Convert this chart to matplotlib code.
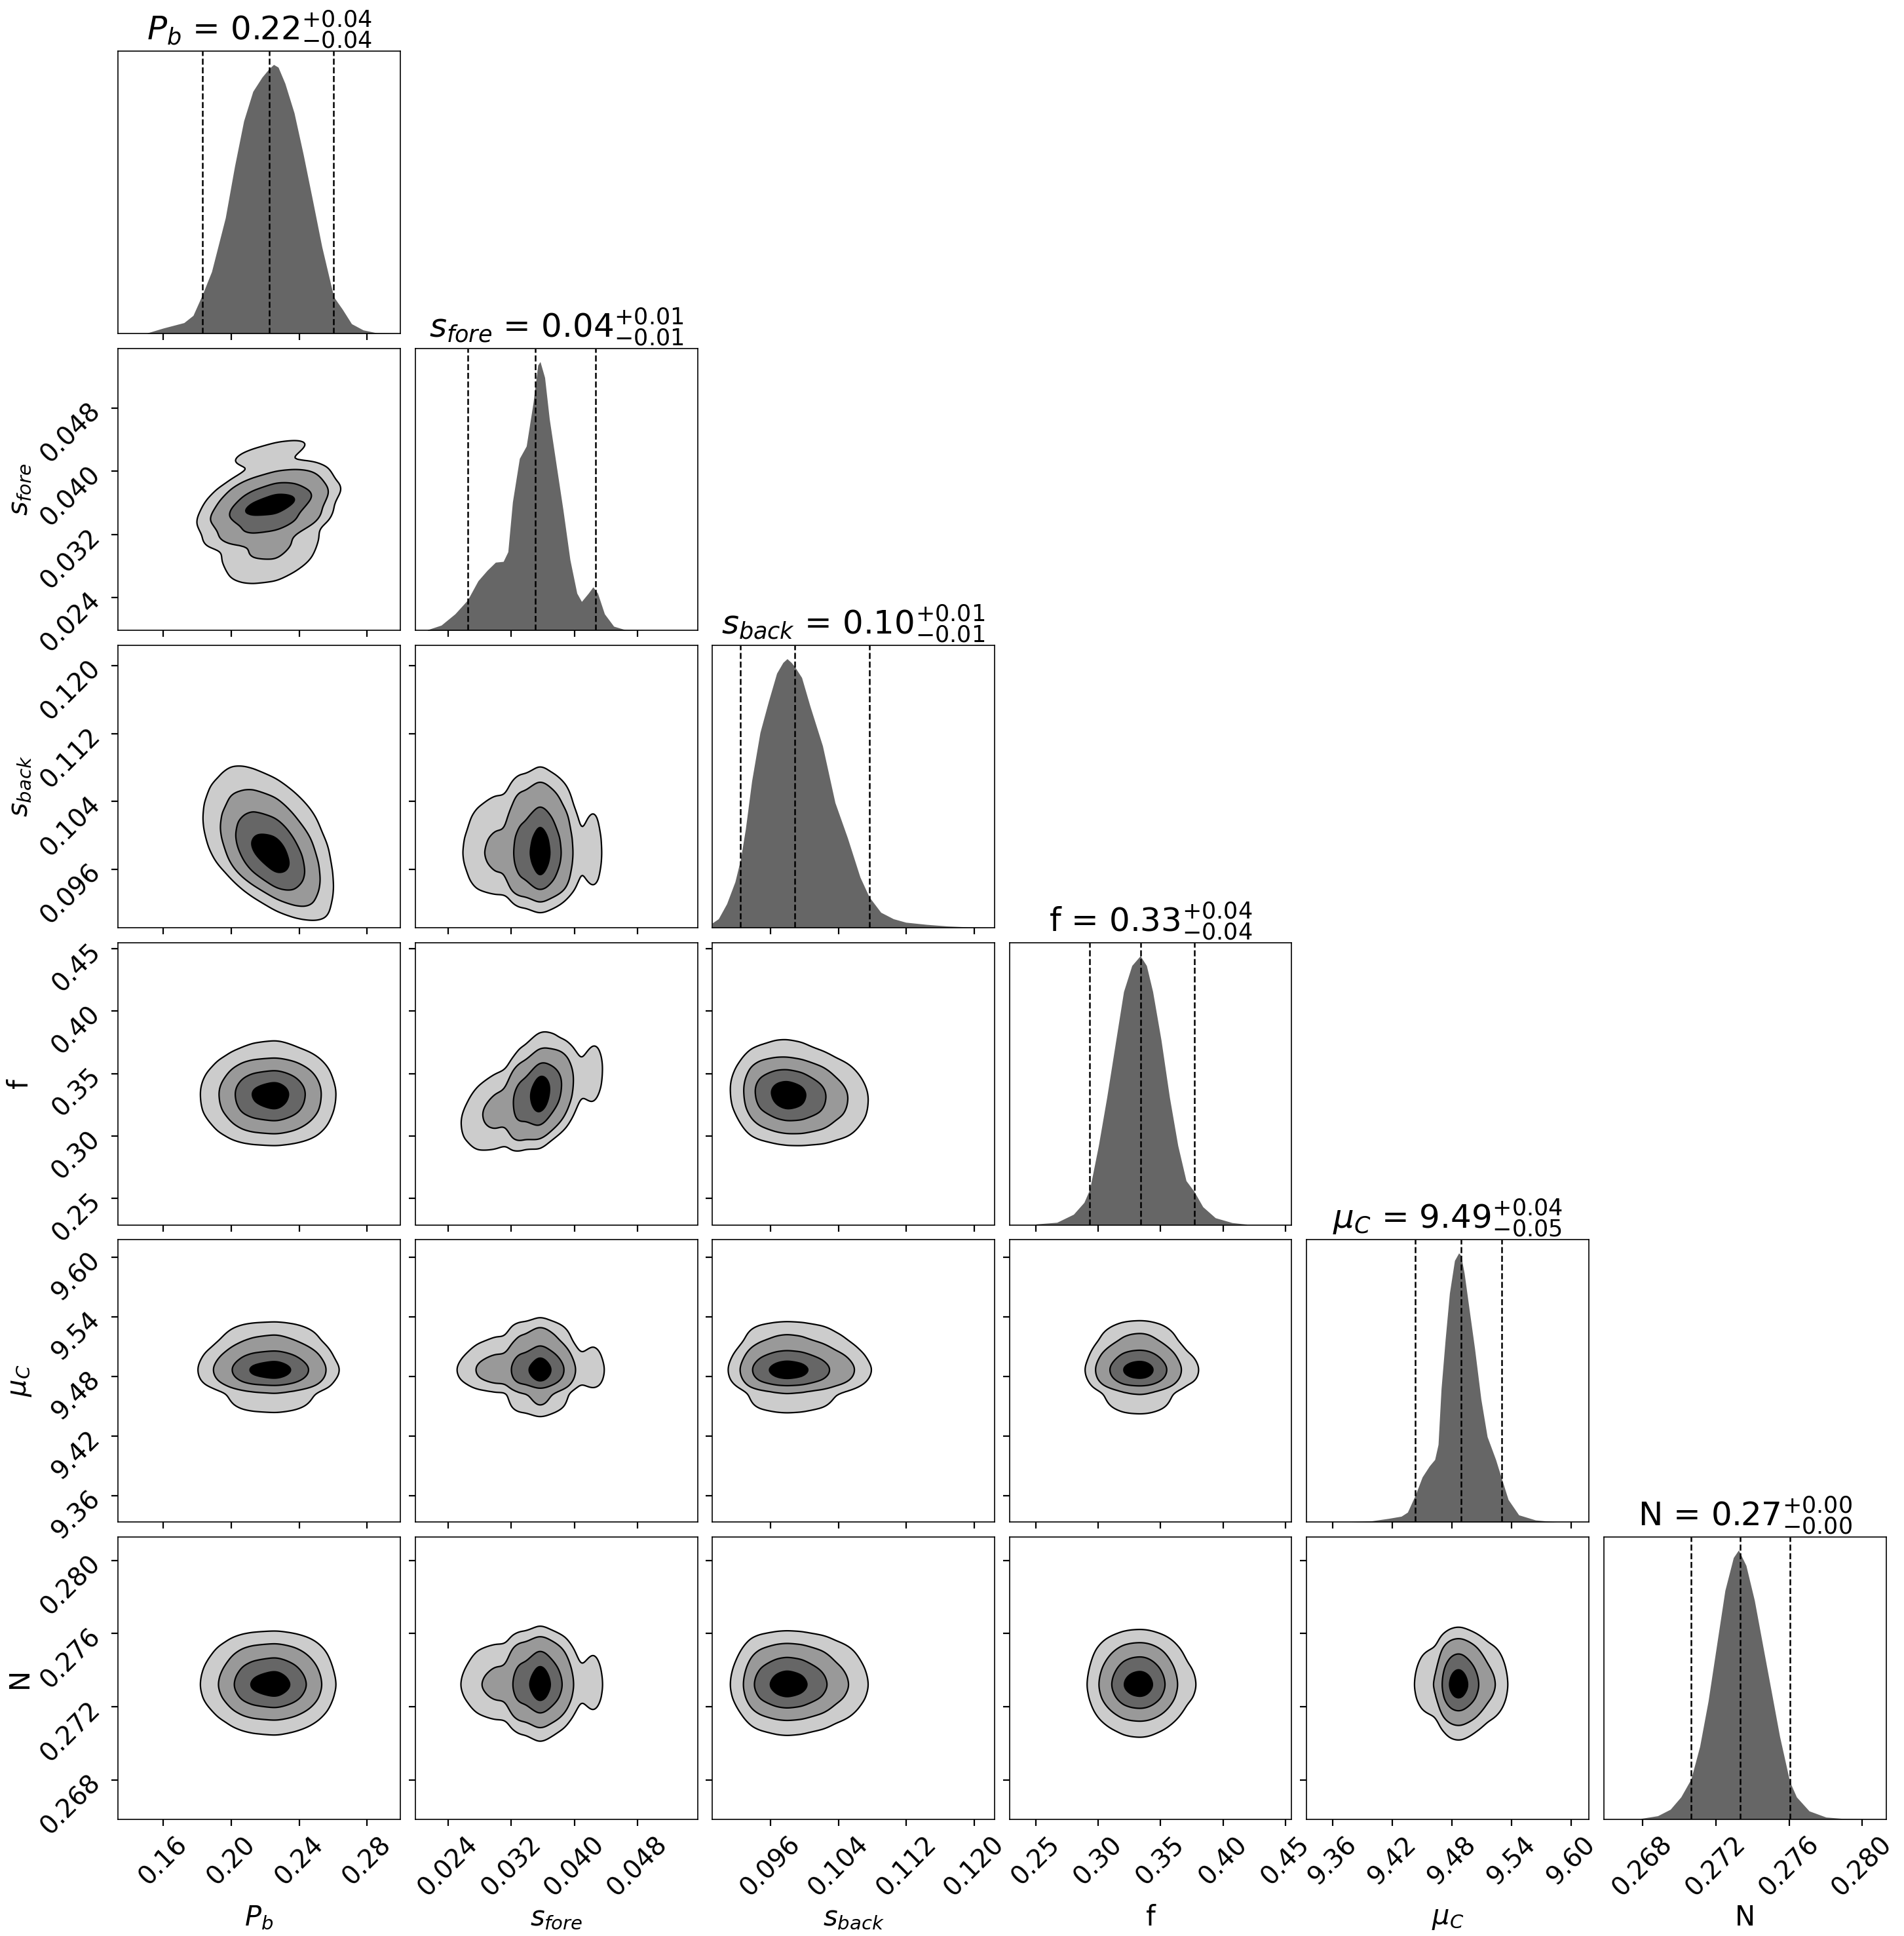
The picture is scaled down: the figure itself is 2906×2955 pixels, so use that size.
import numpy as np
import matplotlib
matplotlib.use("Agg")
import matplotlib.pyplot as plt

# ---------------------------------------------------------------
# parameters
labels = [r"$P_b$", r"$s_{fore}$", r"$s_{back}$", "f", r"$\mu_C$", "N"]

lims = [(0.1333, 0.2996), (0.0198, 0.0556), (0.0891, 0.1224),
        (0.229, 0.455), (9.3338, 9.6176), (0.26586, 0.2813)]

ticks = [[0.16, 0.20, 0.24, 0.28],
         [0.024, 0.032, 0.040, 0.048],
         [0.096, 0.104, 0.112, 0.120],
         [0.25, 0.30, 0.35, 0.40, 0.45],
         [9.36, 9.42, 9.48, 9.54, 9.60],
         [0.268, 0.272, 0.276, 0.280]]
tick_labels = [["0.16", "0.20", "0.24", "0.28"],
               ["0.024", "0.032", "0.040", "0.048"],
               ["0.096", "0.104", "0.112", "0.120"],
               ["0.25", "0.30", "0.35", "0.40", "0.45"],
               ["9.36", "9.42", "9.48", "9.54", "9.60"],
               ["0.268", "0.272", "0.276", "0.280"]]

# quantiles drawn as dashed lines (low, median, high)
quantiles = [[0.1831, 0.2223, 0.2604],
             [0.02645, 0.03508, 0.04266],
             [0.09244, 0.09882, 0.10762],
             [0.2934, 0.3342, 0.3769],
             [9.4434, 9.4890, 9.5303],
             [0.27064, 0.27333, 0.27604]]

# marginal shapes (height relative to peak)
pb_x = [0.1506, 0.1601, 0.1722, 0.1776, 0.1831, 0.1885, 0.1966, 0.2020, 0.2074,
        0.2128, 0.2182, 0.2223, 0.2250, 0.2277, 0.2317, 0.2371, 0.2425, 0.2480,
        0.2534, 0.2604, 0.2655, 0.2709, 0.2777, 0.2858, 0.2993]
pb_h = [0.002, 0.020, 0.040, 0.067, 0.145, 0.230, 0.43, 0.62, 0.79, 0.90, 0.953,
        0.984, 1.0, 0.99, 0.93, 0.82, 0.665, 0.494, 0.323, 0.136, 0.090, 0.036,
        0.013, 0.002, 0.0]

sf_x = [0.02137, 0.02312, 0.02487, 0.02645, 0.02779, 0.02895, 0.03000, 0.03099,
        0.03158, 0.03216, 0.03304, 0.03391, 0.03478, 0.03537, 0.03566, 0.03624,
        0.03683, 0.03770, 0.03857, 0.03945, 0.04032, 0.04091, 0.04178, 0.04236,
        0.04295, 0.04382, 0.04499, 0.04645, 0.04878]
sf_h = [0.003, 0.020, 0.062, 0.113, 0.185, 0.224, 0.254, 0.257, 0.293, 0.478,
        0.640, 0.686, 0.848, 0.987, 1.0, 0.941, 0.787, 0.617, 0.448, 0.263,
        0.139, 0.108, 0.139, 0.162, 0.139, 0.062, 0.016, 0.003, 0.0]

sb_x = [0.08910, 0.08984, 0.09082, 0.09180, 0.09244, 0.09303, 0.09377, 0.09475,
        0.09573, 0.09671, 0.09745, 0.09794, 0.09843, 0.09882, 0.09966, 0.10064,
        0.10212, 0.10359, 0.10506, 0.10654, 0.10762, 0.10899, 0.11047, 0.11194,
        0.11439, 0.11685, 0.11980, 0.12240]
sb_h = [0.017, 0.033, 0.089, 0.171, 0.253, 0.367, 0.546, 0.726, 0.840, 0.946,
        0.986, 1.0, 0.986, 0.971, 0.930, 0.824, 0.676, 0.465, 0.334, 0.188,
        0.114, 0.057, 0.033, 0.020, 0.012, 0.006, 0.002, 0.0]

f_x = [0.2504, 0.2671, 0.2804, 0.2888, 0.2934, 0.3004, 0.3071, 0.3138, 0.3205,
       0.3271, 0.3338, 0.3388, 0.3438, 0.3505, 0.3572, 0.3639, 0.3705, 0.3769,
       0.3839, 0.3939, 0.4073, 0.4190]
f_h = [0.003, 0.009, 0.039, 0.083, 0.132, 0.295, 0.475, 0.671, 0.867, 0.964, 1.0,
       0.964, 0.867, 0.687, 0.475, 0.295, 0.164, 0.124, 0.067, 0.026, 0.008, 0.002]

mu_x = [9.3785, 9.3996, 9.4165, 9.4291, 9.4354, 9.4434, 9.4502, 9.4574, 9.4628,
        9.4662, 9.4692, 9.4734, 9.4776, 9.4827, 9.4869, 9.4890, 9.4924, 9.4966,
        9.5029, 9.5092, 9.5155, 9.5240, 9.5303, 9.5366, 9.5472, 9.5640, 9.5851]
mu_h = [0.0, 0.004, 0.013, 0.021, 0.036, 0.101, 0.167, 0.208, 0.232, 0.288, 0.494,
        0.681, 0.850, 0.972, 1.0, 0.991, 0.925, 0.812, 0.644, 0.457, 0.317, 0.232,
        0.157, 0.083, 0.026, 0.007, 0.0]

n_x = [0.26790, 0.26882, 0.26951, 0.27009, 0.27064, 0.27112, 0.27158, 0.27204,
       0.27250, 0.27296, 0.27324, 0.27365, 0.27411, 0.27457, 0.27503, 0.27549,
       0.27604, 0.27641, 0.27710, 0.27802, 0.27893, 0.28031]
n_h = [0.002, 0.012, 0.036, 0.082, 0.148, 0.270, 0.438, 0.644, 0.850, 0.972, 1.0,
       0.943, 0.813, 0.644, 0.476, 0.307, 0.139, 0.082, 0.030, 0.007, 0.002, 0.0]

marg_x = [pb_x, sf_x, sb_x, f_x, mu_x, n_x]
marg_h = [pb_h, sf_h, sb_h, f_h, mu_h, n_h]

# tilt of each 2d panel (row, col)
rho = {(1, 0): 0.25,
       (2, 0): -0.5, (2, 1): 0.0,
       (3, 0): 0.0, (3, 1): 0.45, (3, 2): -0.1,
       (4, 0): 0.0, (4, 1): 0.0, (4, 2): 0.0, (4, 3): 0.0,
       (5, 0): 0.0, (5, 1): 0.0, (5, 2): 0.0, (5, 3): 0.0, (5, 4): 0.0}

mass_levels = [0.118, 0.393, 0.675, 0.865]


def smooth(z, s):
    k = np.arange(-4 * s, 4 * s + 1)
    g = np.exp(-0.5 * (k / s) ** 2)
    g = g / g.sum()
    z = np.apply_along_axis(lambda r: np.convolve(r, g, mode="same"), 0, z)
    z = np.apply_along_axis(lambda r: np.convolve(r, g, mode="same"), 1, z)
    return z


def spread(i):
    xg = np.linspace(lims[i][0], lims[i][1], 400)
    w = np.interp(xg, marg_x[i], marg_h[i], left=0, right=0)
    m = quantiles[i][1]
    return np.sqrt((w * (xg - m) ** 2).sum() / w.sum())


# ---------------------------------------------------------------
W, H = 2906, 2955
fig = plt.figure(figsize=(W / 200, H / 200), dpi=200)

K = 6
x0, y0, size, pitch = 180, 78, 431, 453.5
fills = [(0, 0, 0, 0), (0, 0, 0, 0.2), (0, 0, 0, 0.4), (0, 0, 0, 0.6), (0, 0, 0, 1)]

for i in range(K):
    for j in range(i + 1):
        left = (x0 + j * pitch) / W
        bottom = (H - y0 - size - i * pitch) / H
        ax = fig.add_axes([left, bottom, size / W, size / H])
        for sp in ax.spines.values():
            sp.set_linewidth(0.6)

        if i == j:
            ax.fill_between(marg_x[i], marg_h[i], color="#666666", lw=0)
            for q in quantiles[i]:
                ax.axvline(q, ls="--", color="k", lw=0.9)
            ax.set_ylim(0, 1.05)
            ax.set_yticks([])
            lo, med, hi = quantiles[i]
            t = r"${{{0:.2f}}}_{{-{1:.2f}}}^{{+{2:.2f}}}$".format(med, med - lo, hi - med)
            ax.set_title(labels[i] + " = " + t, fontsize=18)
        else:
            xg = np.linspace(lims[j][0], lims[j][1], 220)
            yg = np.linspace(lims[i][0], lims[i][1], 220)
            X, Y = np.meshgrid(xg, yg)
            b = rho[(i, j)] * spread(i) / spread(j)
            px = np.interp(X, marg_x[j], marg_h[j], left=0, right=0)
            py = np.interp(Y - b * (X - quantiles[j][1]), marg_x[i], marg_h[i],
                           left=0, right=0)
            Z = smooth(px * py, 2)
            zs = np.sort(Z.ravel())[::-1]
            cm = np.cumsum(zs) / zs.sum()
            V = [zs[np.argmin(np.abs(cm - m))] for m in mass_levels]
            V = np.sort(V)
            ax.contourf(X, Y, Z, np.concatenate([[0], V, [Z.max() * 1.0001]]),
                        colors=fills, antialiased=False)
            ax.contour(X, Y, Z, V, colors="k", linewidths=0.8)
            ax.set_ylim(lims[i])
            ax.set_yticks(ticks[i])
            if j == 0:
                ax.set_yticklabels(tick_labels[i], rotation=45, fontsize=14)
                ax.set_ylabel(labels[i], fontsize=15)
                ax.yaxis.set_label_coords(-0.3, 0.5)
            else:
                ax.set_yticklabels([])

        ax.set_xlim(lims[j])
        ax.set_xticks(ticks[j])
        if i == K - 1:
            ax.set_xticklabels(tick_labels[j], rotation=45, fontsize=14)
            ax.set_xlabel(labels[j], fontsize=15)
            ax.xaxis.set_label_coords(0.5, -0.3)
        else:
            ax.set_xticklabels([])

fig.savefig("out.png", dpi=200)
